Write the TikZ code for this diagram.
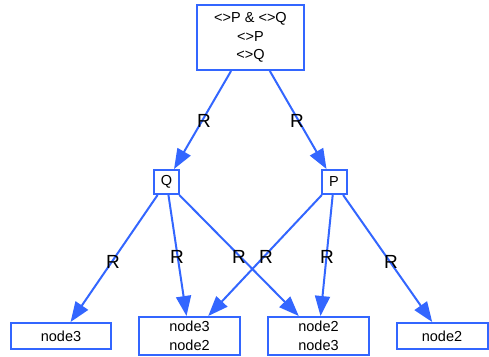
\documentclass[tikz,border=0pt]{standalone}
\usepackage{fontspec}
\setmainfont{Liberation Sans}
\usetikzlibrary{arrows.meta}
\definecolor{eb}{RGB}{51,102,255}
\begin{document}
\begin{tikzpicture}[x=1pt,y=-1pt,
 box/.style={draw=eb, line width=2pt, inner sep=0pt, align=center, font=\fontsize{14.5}{18.5}\selectfont},
 edge/.style={draw=eb, line width=2pt, -{Triangle[length=20pt,width=15pt]}},
 lbl/.style={font=\fontsize{19}{19}\selectfont, inner sep=0pt}]
\useasboundingbox (0,0) rectangle (489,356);
\node[box, minimum width=107pt, minimum height=65pt] (top) at (250.5,37.5) {<>P \& <>Q\\<>P\\<>Q};
\node[box, minimum width=25pt, minimum height=24pt] (Q) at (166.5,182) {Q};
\node[box, minimum width=25pt, minimum height=24pt] (P) at (334,182) {P};
\node[box, minimum width=100pt, minimum height=26pt] (n3) at (61,336) {node3};
\node[box, minimum width=101pt, minimum height=38pt] (n32) at (189.5,336) {node3\\node2};
\node[box, minimum width=101pt, minimum height=38pt] (n23) at (318.5,336) {node2\\node3};
\node[box, minimum width=91pt, minimum height=26pt] (n2) at (442,336) {node2};
\draw[edge] (top) -- (Q);
\draw[edge] (top) -- (P);
\draw[edge] (Q) -- (n3);
\draw[edge] (Q) -- (n32);
\draw[edge] (Q) -- (n23);
\draw[edge] (P) -- (n32);
\draw[edge] (P) -- (n23);
\draw[edge] (P) -- (n2);
\node[lbl] (l1) at (204,121) {R};
\node[lbl] (l2) at (297,121) {R};
\node[lbl] (l3) at (113,262) {R};
\node[lbl] (l4) at (177,257) {R};
\node[lbl] (l5) at (239,257) {R};
\node[lbl] (l6) at (266,257) {R};
\node[lbl] (l7) at (327,257) {R};
\node[lbl] (l8) at (391,262) {R};
\end{tikzpicture}
\end{document}
